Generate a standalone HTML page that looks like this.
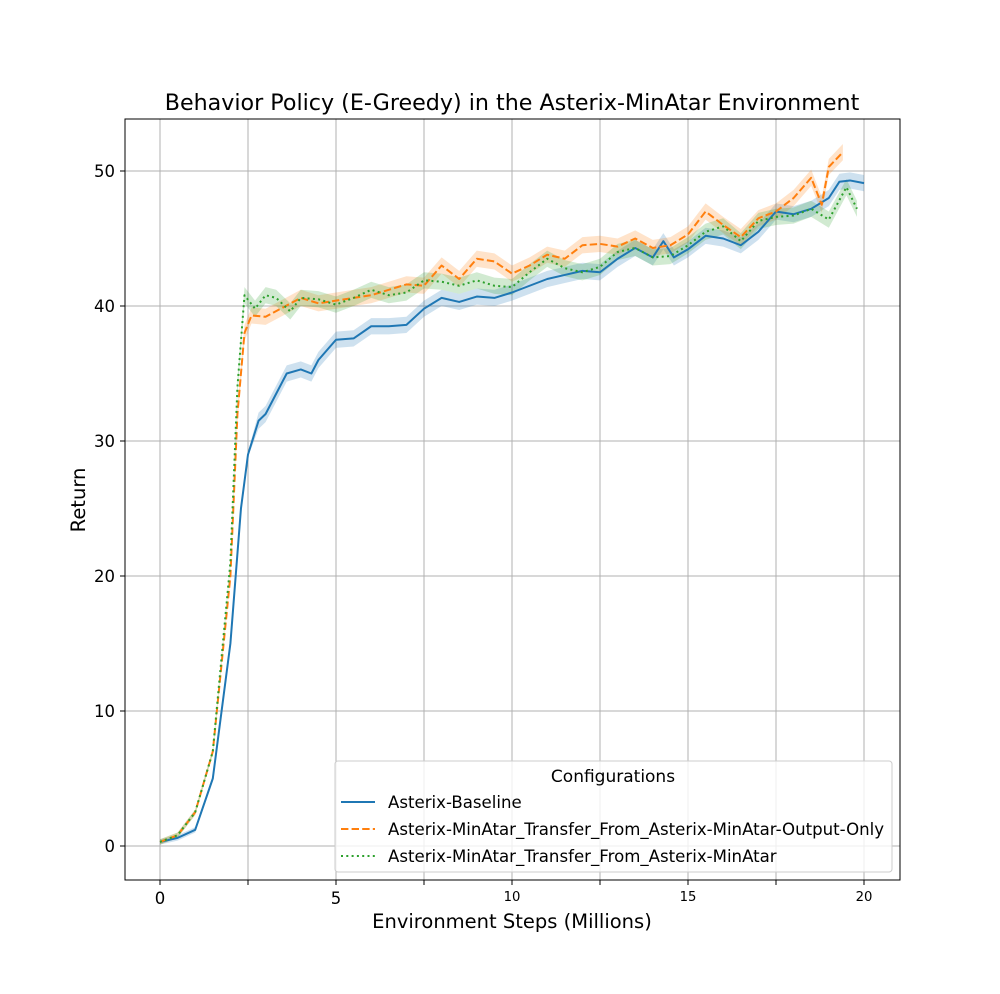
<!DOCTYPE html>
<html><head><meta charset="utf-8"><style>
body{margin:0;background:#fff}
svg{font-family:"DejaVu Sans","Liberation Sans",sans-serif}
</style></head><body>
<svg id="chart" width="1000" height="989" xmlns="http://www.w3.org/2000/svg">
<rect width="1000" height="989" fill="#fff"/>
<text x="512" y="110" text-anchor="middle" font-size="22.2">Behavior Policy (E-Greedy) in the Asterix-MinAtar Environment</text>
<g id="grid"></g>
<g id="bands"></g>
<g id="lines"></g>
<rect x="125" y="119" width="775" height="761" fill="none" stroke="#000" stroke-width="1"/>
<g id="ticks"></g>
<text x="512" y="928" text-anchor="middle" font-size="19.5">Environment Steps (Millions)</text>
<text transform="translate(85,500) rotate(-90)" text-anchor="middle" font-size="19.5">Return</text>
<g>
<rect x="335" y="761" width="557" height="111" rx="3" fill="#fff" fill-opacity="0.8" stroke="#ccc"/>
<text x="613" y="782" text-anchor="middle" font-size="17">Configurations</text>
<line x1="341" y1="802" x2="375" y2="802" stroke="#1f77b4" stroke-width="2"/>
<text x="388" y="808" font-size="16.6">Asterix-Baseline</text>
<line x1="341" y1="829" x2="375" y2="829" stroke="#ff7f0e" stroke-width="2" stroke-dasharray="7.4,3.2"/>
<text x="388" y="835" font-size="16.6">Asterix-MinAtar_Transfer_From_Asterix-MinAtar-Output-Only</text>
<line x1="341" y1="856" x2="375" y2="856" stroke="#2ca02c" stroke-width="2" stroke-dasharray="2,3.3"/>
<text x="388" y="862" font-size="16.6">Asterix-MinAtar_Transfer_From_Asterix-MinAtar</text>
</g>
</svg>
<script>
const blueX=[0,0.5,1,1.5,2,2.3,2.5,2.8,3,3.3,3.6,4,4.3,4.5,5,5.5,6,6.5,7,7.5,8,8.5,9,9.5,10,10.5,11,11.5,12,12.5,13,13.5,14,14.3,14.6,15,15.5,16,16.5,17,17.5,18,18.5,19,19.3,19.6,20];
const blueY=[0.3,0.6,1.2,5,15,25,29,31.5,32,33.5,35,35.3,35,36,37.5,37.6,38.5,38.5,38.6,39.8,40.6,40.3,40.7,40.6,41,41.5,42,42.3,42.6,42.5,43.5,44.3,43.6,44.8,43.6,44.2,45.2,45,44.5,45.5,47,46.8,47.2,48,49.2,49.3,49.1];
const orangeX=[0,0.5,1,1.5,2,2.2,2.4,2.6,3,3.5,4,4.5,5,5.5,6,6.5,7,7.5,8,8.5,9,9.5,10,10.5,11,11.5,12,12.5,13,13.5,14,14.5,15,15.5,16,16.5,17,17.5,18,18.5,18.8,19,19.4];
const orangeY=[0.3,0.8,2.5,7,20,32,38,39.3,39.2,39.9,40.6,40.2,40.4,40.6,40.8,41.2,41.6,41.5,43,42,43.5,43.3,42.4,43,43.8,43.5,44.5,44.6,44.4,45,44.3,44.5,45.3,47,46,45.1,46.5,47,48,49.5,47.5,50.3,51.4];
const greenX=[0,0.5,1,1.5,2,2.2,2.4,2.7,3,3.3,3.7,4,4.5,5,5.5,6,6.5,7,7.5,8,8.5,9,9.5,10,10.5,11,11.5,12,12.5,13,13.5,14,14.5,15,15.5,16,16.5,17,17.5,18,18.5,19,19.5,19.8];
const greenY=[0.3,0.8,2.5,7,21,34,40.8,39.8,40.8,40.6,39.6,40.6,40.5,40.1,40.6,41.2,40.8,41,41.9,41.8,41.5,41.9,41.5,41.4,42.5,43.5,42.8,42.5,42.9,44,44.3,43.6,43.7,44.5,45.5,45.9,44.8,46.3,46.6,46.7,47.2,46.4,48.8,47.2];
const xTicks=[0,2.5,5,7.5,10,12.5,15,17.5,20];
const xLabels=["0","","5","","10","","15","","20"];
const yTicks=[0,10,20,30,40,50];
const NS="http://www.w3.org/2000/svg";
const sx=v=>160+35.2*v, sy=v=>846-13.5*v;
function mk(tag,parent,attrs){const e=document.createElementNS(NS,tag);for(const k in attrs)e.setAttribute(k,attrs[k]);document.getElementById(parent).appendChild(e);return e;}
xTicks.forEach((t,i)=>{
 const g=mk('line','grid',{x1:sx(t),x2:sx(t),y1:119,y2:880,stroke:'#b0b0b0','stroke-width':1});
 
 
 const tk=mk('line','ticks',{x1:sx(t),x2:sx(t),y1:880,y2:885,stroke:'#000'});
 
 
 if(xLabels[i]){const tx=mk('text','ticks',{x:sx(t),y:i<3?904:901,'text-anchor':'middle','font-size':i<3?16.5:13.2});tx.textContent=xLabels[i];
 
 }
});
yTicks.forEach(t=>{
 const g=mk('line','grid',{x1:125,x2:900,y1:sy(t),y2:sy(t),stroke:'#b0b0b0','stroke-width':1});
 
 
 const tk=mk('line','ticks',{x1:120,x2:125,y1:sy(t),y2:sy(t),stroke:'#000'});
 
 
 const tx=mk('text','ticks',{x:115,y:sy(t)+6,'text-anchor':'end','font-size':16.5});tx.textContent=t;
 
 
});
function draw(X,Y,color,dash,name){
 const ci=0.6;
 let up=X.map((x,i)=>sx(x)+','+sy(Y[i]+(Y[i]>30?ci:0.2))).join(' ');
 let dn=X.map((x,i)=>sx(x)+','+sy(Y[i]-(Y[i]>30?ci:0.2))).reverse().join(' ');
 const b=mk('polygon','bands',{points:up+' '+dn,fill:color,'fill-opacity':0.22});
 
 
 const l=mk('polyline','lines',{points:X.map((x,i)=>sx(x)+','+sy(Y[i])).join(' '),fill:'none',stroke:color,'stroke-width':2,'stroke-dasharray':dash,'stroke-linejoin':'round'});
 
 
}
draw(blueX,blueY,'#1f77b4','none','baseline');
draw(orangeX,orangeY,'#ff7f0e','7.4,3.2','output-only');
draw(greenX,greenY,'#2ca02c','2,3.3','transfer');
</script>
</body></html>
